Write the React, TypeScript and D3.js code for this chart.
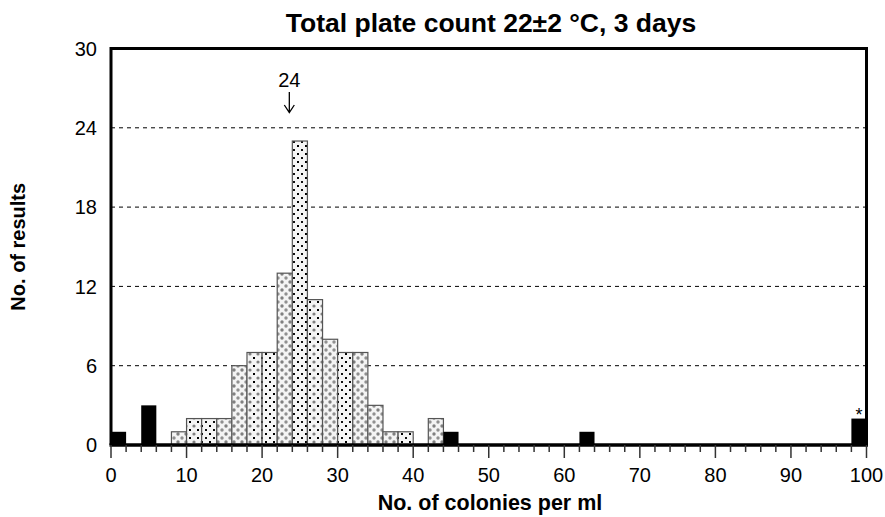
import React from "react";
import * as d3 from "d3";

// ---- data ----
const binLower = [0, 4, 8, 10, 12, 14, 16, 18, 20, 22, 24, 26, 28, 30, 32, 34, 36, 38, 42, 44, 62, 98];
const binWidth = 2;
const counts = [1, 3, 1, 2, 2, 2, 6, 7, 7, 13, 23, 11, 8, 7, 7, 3, 1, 1, 2, 1, 1, 2];
const outlier = [true, true, false, false, false, false, false, false, false, false, false, false, false, false, false, false, false, false, false, true, true, true];
const xTicks = [0, 10, 20, 30, 40, 50, 60, 70, 80, 90, 100];
const yTicks = [0, 6, 12, 18, 24, 30];
const gridValues = [6, 12, 18, 24];
const assignedValue = 24;
const title = "Total plate count 22±2 °C, 3 days";
const xTitle = "No. of colonies per ml";
const yTitle = "No. of results";

// pattern per accepted bar (style only)
const patternSeq = ["pd", "pm", "ps", "pd", "pd", "pm", "ps", "pd", "ps", "pm", "pd", "ps", "pd", "pd", "pd", "ps", "pd"];

const W = 885, H = 517;
const FONT = "Arial, 'Liberation Sans', Helvetica, sans-serif";

export default function App() {
  const x = d3.scaleLinear().domain([0, 100]).range([111, 866.5]);
  const y = d3.scaleLinear().domain([0, 30]).range([445, 48.5]);
  const minor = d3.range(0, 101, 2);
  let pIdx = 0;
  const bars = binLower.map((b, i) => {
    const isOut = outlier[i];
    const fill = isOut ? "#000" : `url(#${patternSeq[pIdx++ % patternSeq.length]})`;
    return { b, v: counts[i], isOut, fill };
  });
  const last = bars[bars.length - 1];
  const ax = x(assignedValue) - 3;
  return (
    <svg width={W} height={H} style={{ position: "absolute", left: 0, top: 0, background: "#fff" }} fontFamily={FONT}>
      <defs>
        <pattern id="pd" width="8" height="8" patternUnits="userSpaceOnUse">
          <rect width="8" height="8" fill="#f4f4f4" />
          <circle cx="2" cy="2" r="1.7" fill="#808080" />
          <circle cx="6" cy="6" r="1.7" fill="#909090" />
        </pattern>
        <pattern id="ps" width="8" height="8" patternUnits="userSpaceOnUse">
          <rect width="8" height="8" fill="#f6f6f6" />
          <rect x="1" y="1" width="2" height="2" fill="#000" />
          <rect x="5" y="5" width="2" height="2" fill="#111" />
        </pattern>
        <pattern id="pm" width="8" height="8" patternUnits="userSpaceOnUse">
          <rect width="8" height="8" fill="#f4f4f4" />
          <circle cx="2" cy="2" r="1.6" fill="#808080" />
          <rect x="5" y="5" width="2" height="2" fill="#000" />
        </pattern>
      </defs>

      {/* gridlines */}
      {gridValues.map((g) => (
        <line key={g} x1={x(0)} x2={x(100)} y1={y(g)} y2={y(g)} stroke="#000" strokeWidth={1} strokeDasharray="4,4" />
      ))}

      {/* bars */}
      {bars.map((d, i) => (
        <rect
          key={i}
          x={x(d.b)}
          y={y(d.v)}
          width={x(d.b + binWidth) - x(d.b)}
          height={y(0) - y(d.v)}
          fill={d.fill}
          stroke={d.isOut ? "none" : "#555"}
          strokeWidth={1.2}
        />
      ))}

      {/* frame */}
      <path d={`M${x(0)},${y(0)} V${y(30)} H${x(100)} V${y(0)}`} fill="none" stroke="#000" strokeWidth={3} />
      <line x1={x(0) - 1.5} x2={x(100) + 1.5} y1={y(0)} y2={y(0)} stroke="#000" strokeWidth={3.5} />

      {/* x ticks */}
      {minor.map((t) => (
        <line key={t} x1={x(t)} x2={x(t)} y1={y(0)} y2={y(0) + (t % 10 === 0 ? 13 : 7)} stroke="#333" strokeWidth={1.5} />
      ))}
      {xTicks.map((t) => (
        <text key={t} x={x(t)} y={481.5} textAnchor="middle" fontSize={20} fill="#000">{t}</text>
      ))}
      {/* y ticks */}
      {yTicks.map((t) => (
        <text key={t} x={97} y={y(t) + 7.3} textAnchor="end" fontSize={20} fill="#000">{t}</text>
      ))}

      {/* annotations */}
      <text x={ax} y={86.5} textAnchor="middle" fontSize={20}>{assignedValue}</text>
      <path d={`M${ax},92 V112 M${ax - 5},105 L${ax},112.5 L${ax + 5},105`} fill="none" stroke="#000" strokeWidth={1.3} />
      <text x={x(last.b + binWidth / 2)} y={421} textAnchor="middle" fontSize={18}>*</text>

      {/* titles */}
      <text x={491} y={32} textAnchor="middle" fontSize={26.5} fontWeight="bold">{title}</text>
      <text x={490} y={510} textAnchor="middle" fontSize={21.5} fontWeight="bold">{xTitle}</text>
      <text transform={`translate(25,${(y(0) + y(30)) / 2}) rotate(-90)`} textAnchor="middle" fontSize={20} fontWeight="bold">{yTitle}</text>
    </svg>
  );
}
